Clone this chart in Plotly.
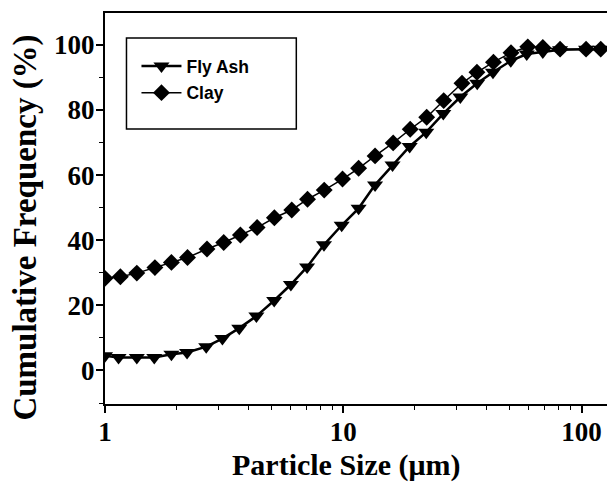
import plotly.graph_objects as go

# Data
fly_ash_size = [1.0, 1.14, 1.36, 1.61, 1.90, 2.21, 2.66, 3.11, 3.66, 4.32, 5.13, 6.03, 7.05,
                8.30, 9.85, 11.6, 13.6, 16.1, 19.0, 22.3, 26.3, 31.0, 36.5, 42.5, 50.5,
                58.9, 68.8, 81.3, 104.5, 120.0]
fly_ash_freq = [4.5, 4.0, 4.0, 4.0, 5.0, 5.5, 7.3, 9.8, 13.0, 16.7, 21.5, 26.4, 31.8,
                38.6, 44.6, 49.8, 57.0, 63.1, 68.8, 73.2, 78.9, 84.0, 88.2, 91.6, 95.1,
                97.2, 97.8, 98.5, 98.7, 98.7]

clay_size = [1.0, 1.16, 1.36, 1.62, 1.90, 2.22, 2.68, 3.15, 3.70, 4.35, 5.14, 6.08, 7.08,
             8.32, 9.93, 11.6, 13.6, 16.2, 19.1, 22.4, 26.4, 31.5, 36.4, 42.7, 50.6,
             59.5, 68.8, 81.3, 104.5, 120.4]
clay_freq = [28.3, 28.8, 29.9, 31.6, 33.2, 34.7, 37.3, 39.3, 41.6, 43.9, 46.9, 49.3, 52.6,
             55.4, 58.8, 62.1, 65.9, 69.9, 74.1, 77.8, 82.9, 88.2, 91.6, 94.7, 97.6,
             99.4, 99.2, 98.7, 98.7, 98.7]

x_tick_vals = [1, 10, 100]
x_tick_text = ["1", "10", "100"]
y_tick_vals = [0, 20, 40, 60, 80, 100]
x_title = "Particle Size (\u03bcm)"
y_title = "Cumulative Frequency (%)"

serif = "Liberation Serif, Times New Roman, serif"
sans = "Liberation Sans, Arial, sans-serif"

fig = go.Figure()
fig.add_trace(go.Scatter(
    x=fly_ash_size, y=fly_ash_freq, name="Fly Ash", mode="lines+markers",
    line=dict(color="black", width=2.5),
    marker=dict(symbol="triangle-down", size=14, color="black"),
    legendgroup="a", cliponaxis=True,
))
fig.add_trace(go.Scatter(
    x=clay_size, y=clay_freq, name="Clay", mode="lines+markers",
    line=dict(color="black", width=1.5),
    marker=dict(symbol="diamond", size=13, color="black"),
    legendgroup="b", cliponaxis=True,
))

L, T, B = 104.5, 13, 80
W, H = 607, 484
pw = W - L
ph = H - T - B

def px2paper(px, py):
    return (px - L) / pw, (H - B - py) / ph

x0, y1 = px2paper(126, 38)
x1, y0 = px2paper(296, 129)

fig.add_shape(type="rect", xref="paper", yref="paper", x0=x0, y0=y0, x1=x1, y1=y1,
              line=dict(color="black", width=1.5), fillcolor="rgba(0,0,0,0)", layer="above")

lx, ly = px2paper(136, 48)

xtx, xty = px2paper(346, 465)
ytx, yty = px2paper(24, 228)

fig.add_annotation(text=x_title, xref="paper", yref="paper", x=xtx, y=xty,
                   xanchor="center", yanchor="middle", showarrow=False,
                   font=dict(family=serif, size=30, color="black", weight="bold"))
fig.add_annotation(text=y_title, xref="paper", yref="paper", x=ytx, y=yty,
                   xanchor="center", yanchor="middle", showarrow=False, textangle=-90,
                   font=dict(family=serif, size=33, color="black", weight="bold"))

fig.update_layout(
    width=W, height=H,
    margin=dict(l=L, r=0, t=T, b=B),
    paper_bgcolor="white", plot_bgcolor="white",
    showlegend=True,
    legend=dict(x=lx, y=ly, xanchor="left", yanchor="top",
                bgcolor="rgba(0,0,0,0)", borderwidth=0,
                font=dict(family=sans, size=17.5, color="black", weight="bold"),
                tracegroupgap=1, itemwidth=40),
    xaxis=dict(
        type="log", range=[0, 2.107],
        tickvals=x_tick_vals, ticktext=x_tick_text,
        ticks="outside", ticklen=7, tickwidth=1.5, tickcolor="black",
        ticklabelstandoff=-4,
        minor=dict(ticks="outside", ticklen=4, tickwidth=1.2, tickcolor="black", dtick="D1"),
        showline=True, linecolor="black", linewidth=2, mirror=True,
        showgrid=False, zeroline=False,
        tickfont=dict(family=serif, size=27, color="black", weight="bold"),
    ),
    yaxis=dict(
        range=[-10.3, 109.8],
        tickvals=y_tick_vals,
        ticks="outside", ticklen=7, tickwidth=1.5, tickcolor="black",
        ticklabelstandoff=-4,
        minor=dict(ticks="outside", ticklen=4, tickwidth=1.2, tickcolor="black", dtick=10, tick0=0),
        showline=True, linecolor="black", linewidth=2, mirror=False,
        showgrid=False, zeroline=False,
        tickfont=dict(family=serif, size=27, color="black", weight="bold"),
    ),
)

fig.write_html("out.html")
